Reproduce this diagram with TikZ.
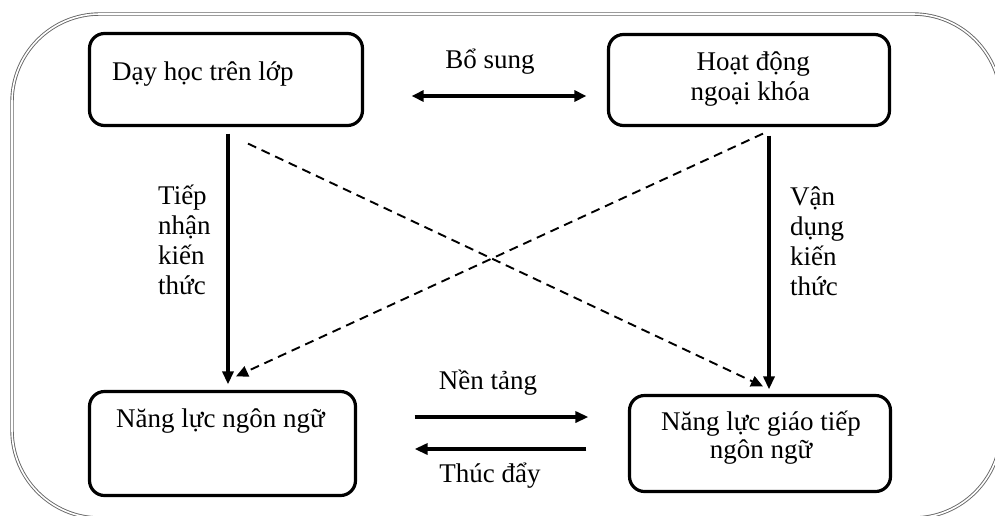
\documentclass[tikz,border=0pt]{standalone}
\usepackage{fontspec}
\setmainfont{Liberation Serif}
\usetikzlibrary{arrows.meta,calc}
\begin{document}
\begin{tikzpicture}[x=1pt,y=-1pt,
  frame/.style={draw=black!60, line width=0.9pt, double=white, double distance=1.6pt, rounded corners=88pt},
  box/.style={draw, line width=3.2pt, rounded corners=15pt, inner sep=0pt},
  txt/.style={inner sep=0pt, font=\fontsize{27}{30}\selectfont},
  solidarrow/.style={line width=3.2pt, -{Triangle[length=13pt,width=11pt]}},
  bothways/.style={line width=3.2pt, {Triangle[length=12pt,width=11pt]}-{Triangle[length=12pt,width=11pt]}},
  dasharrow/.style={line width=1.9pt, dash pattern=on 9pt off 6pt, -{Triangle[length=12pt,width=11pt]}}]

% outer rounded frame, running past the right and bottom edges
\begin{scope}
  \clip (0,0) rectangle (995,515);
  \draw[frame] (12,14) -- (1001,14) -- (1001,518) -- (12,518) -- cycle;
\end{scope}

% the four boxes
\node[box, minimum width=273pt, minimum height=92pt] (b1) at (226,79.5) {};
\node[box, minimum width=281pt, minimum height=91pt] (b2) at (749,80) {};
\node[box, minimum width=266pt, minimum height=104pt] (b3) at (222.5,443.5) {};
\node[box, minimum width=261pt, minimum height=96pt] (b4) at (760,443.5) {};

% box texts
\node[txt, anchor=base west] (t1) at (112,80) {Dạy học trên lớp};
\node[txt, anchor=base east] (t2a) at (810,70) {Hoạt động};
\node[txt, anchor=base east] (t2b) at (810,100) {ngoại khóa};
\node[txt, anchor=base west] (t3) at (116,427) {Năng lực ngôn ngữ};
\node[txt, anchor=base] (t4a) at (761,430) {Năng lực giáo tiếp};
\node[txt, anchor=base] (t4b) at (761,458) {ngôn ngữ};

% vertical arrows
\draw[solidarrow] ($(b1.south)+(2,6.5)$) -- ($(b3.north)+(5.5,-5.5)$);
\draw[solidarrow] ($(b2.south)+(20,8.5)$) -- ($(b4.north)+(9,-4.5)$);

% crossing dashed arrows
\draw[dasharrow] ($(b1.south)+(22,16.5)$) -- ($(b4.north)+(3,-7.5)$);
\draw[dasharrow] ($(b2.south)+(14,6.5)$) -- ($(b3.north)+(13.5,-13.5)$);

% horizontal arrows
\draw[bothways] ($(b1.east)+(47.5,16.5)$) -- ($(b2.west)+(-20.5,16)$);
\draw[solidarrow] ($(b3.east)+(57.5,-26.5)$) -- ($(b4.west)+(-39.5,-26.5)$);
\draw[solidarrow] ($(b4.west)+(-41.5,5.5)$) -- ($(b3.east)+(57.5,5.5)$);

% connector labels
\node[txt, anchor=base] (l1) at (490,68) {Bổ sung};
\node[txt, anchor=base] (l2) at (488,389) {Nền tảng};
\node[txt, anchor=base] (l3) at (490,482) {Thúc đẩy};
\node[txt, anchor=base west] (l4a) at (158,204) {Tiếp};
\node[txt, anchor=base west] (l4b) at (158,234) {nhận};
\node[txt, anchor=base west] (l4c) at (158,264) {kiến};
\node[txt, anchor=base west] (l4d) at (158,294) {thức};
\node[txt, anchor=base west] (l5a) at (790,205) {Vận};
\node[txt, anchor=base west] (l5b) at (790,235) {dụng};
\node[txt, anchor=base west] (l5c) at (790,265) {kiến};
\node[txt, anchor=base west] (l5d) at (790,295) {thức};

% page size
\pgfresetboundingbox
\useasboundingbox (0,0) rectangle (995,515);
\end{tikzpicture}
\end{document}
